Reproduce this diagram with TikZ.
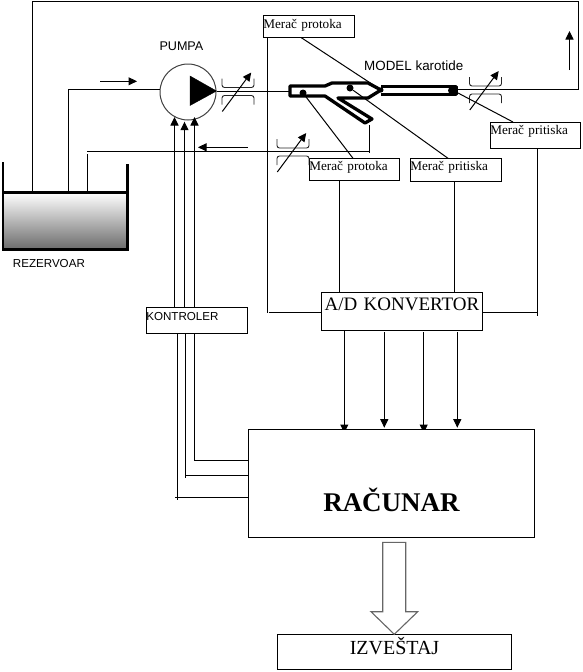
\documentclass[tikz,border=0pt]{standalone}
\usepackage{fontspec}
\setmainfont{Liberation Serif}
\setsansfont{Liberation Sans}
\usetikzlibrary{arrows.meta,backgrounds}
\tikzset{
  nodebox/.style={draw, fill=white, line width=1pt, inner sep=0pt, outer sep=0pt, anchor=north west, align=left},
  meracbox/.style={nodebox, font=\fontsize{13.2}{14}\selectfont},
  labeltext/.style={inner sep=0pt, anchor=base west, font=\sffamily},
  line/.style={line width=1pt},
  arrow/.style={-{Triangle[length=8.5pt,width=8pt]}, line width=1pt},
  tacka/.style={circle, fill=black, inner sep=0pt},
  pipe/.style={line width=3.3pt, line join=round},
  prigusnik/.pic={
    \draw[line width=0.9pt, draw=black!85, rounded corners=2.5pt] (-16,-13) -- (-16,-4) -- (16,-4) -- (16,-13);
    \draw[line width=0.9pt, draw=black!85, rounded corners=2.5pt] (-16,13) -- (-16,4) -- (16,4) -- (16,13);
    \draw[arrow] (-15.7,20) -- (13.2,-19);
  }
}

\begin{document}
\begin{tikzpicture}[x=1pt, y=-1pt]
  \useasboundingbox (0,0) rectangle (582,672);

  \node[draw, line width=2.4pt, inner sep=0pt, outer sep=0pt, minimum width=124.5pt, minimum height=57pt, anchor=north west, top color=white, bottom color=black!58] (R) at (3,192.5) {};
  \node[labeltext, font=\sffamily\fontsize{11.6}{12}\selectfont] (RL) at (12.7,267.3) {REZERVOAR};
  \draw[line width=2.2pt] (R.north west) -- ++(0,-31);
  \draw[line width=2.2pt] (R.north east) -- ++(0,-28.5);

  \node[draw=black!75, circle, line width=1pt, inner sep=0pt, minimum size=56pt] (P) at (188,92) {};
  \node[labeltext, font=\sffamily\fontsize{12.6}{13}\selectfont] (PL) at (159.3,50) {PUMPA};
  \draw[fill=black] (190,76) -- (216.5,91) -- (190,105.5) -- cycle;
  \coordinate (Pout) at (216.5,91);

  \draw[pipe] (290,86) -- (325,86) -- (332,83) -- (368,83) -- (381,90) -- (368,98) -- (338,98) -- (372,119) -- (365,123) -- (325,96) -- (290,96) -- cycle;
  \draw[pipe] (381,86.7) -- (456,86.7) -- (456,94.3) -- (381,94.3);
  \node[labeltext, font=\sffamily\fontsize{13.4}{14}\selectfont] (ML) at (364,70) {MODEL karotide};
  \node[tacka, minimum size=7pt] (T1) at (303,93) {};
  \node[tacka, minimum size=7pt] (T2) at (350,88) {};
  \node[tacka, minimum size=5pt] (T3) at (381,90) {};
  \node[tacka, minimum size=8pt] (T4) at (452,90.5) {};
  \coordinate (Mlevo) at (289,91);
  \coordinate (Mdesno) at (458,89);
  \coordinate (Mgrana) at (369,125);

  \node[meracbox, text width=91pt, text height=13pt, text depth=9.5pt] (MP1) at (263.3,15) {Merač protoka};
  \node[meracbox, text width=90pt, text height=12.4pt, text depth=9.8pt] (MP2) at (309.3,158.3) {Merač protoka};
  \node[meracbox, text width=91pt, text height=12.4pt, text depth=10.6pt] (MT1) at (410.3,158.3) {Merač pritiska};
  \node[meracbox, text width=90pt, text height=12.3pt, text depth=13.7pt] (MT2) at (490.3,122) {Merač pritiska};

  \node[nodebox, align=center, font=\fontsize{19}{20}\selectfont, text width=160.6pt, text height=17.7pt, text depth=20.3pt] (AD) at (321.7,292.3) {A/D KONVERTOR};
  \node[nodebox, font=\sffamily\fontsize{11.6}{12}\selectfont, text width=101pt, text height=13.4pt, text depth=12.6pt] (K) at (146.3,307.3) {KONTROLER};
  \node[nodebox, align=center, font=\bfseries\fontsize{27}{28}\selectfont, text width=286.4pt, text height=81.7pt, text depth=26.3pt] (RC) at (248.3,429.3) {RAČUNAR};
  \node[nodebox, align=center, font=\fontsize{20}{21}\selectfont, text width=234.4pt, text height=19.7pt, text depth=15.3pt] (I) at (277.3,634.3) {IZVEŠTAJ};

  \pic at (238,91.5) {prigusnik};
  \pic at (293,152) {prigusnik};
  \pic at (485.5,90) {prigusnik};

  \coordinate (R1) at (32,1);
  \coordinate (R2) at (68,89);
  \coordinate (R3) at (87,151);
  \coordinate (F) at (578,1);
  \draw[line] (R1 |- R.north) -- (R1) -- (F) -- (F |- Mdesno) -- (Mdesno);
  \draw[line] (R2 |- R.north) -- (R2) -- (P.west |- R2);
  \draw[line] (R3 |- R.north) -- (87,154);
  \draw[line] (R3) -- (Mgrana |- R3);
  \draw[line] (Mgrana) -- ++(0,28);
  \draw[line] (Pout) -- (Mlevo);

  \draw[arrow] (100,81.3) -- (137,81.3);
  \draw[arrow] (247.7,147.3) -- (198,147.3);
  \draw[arrow] (569.5,70) -- (569.5,31);

  \draw[line] (301,37.5) -- (T3);
  \draw[line] (T1) -- (353,158.3);
  \draw[line] (T2) -- (448,158.3);
  \draw[line] (458,93) -- (513,122);

  \draw[line] (267.5,37.5) -- (267.5,313) (268.5,312) -- (AD.west |- 0,312);
  \draw[line] (339,180.5) -- (339,292.3);
  \draw[line] (454.5,181.5) -- (454.5,292.3);
  \draw[line] (537.5,148) -- (537.5,316);
  \draw[line] (AD.east |- 0,312.5) -- (537.5,312.5);

  \coordinate (K1) at (174.5,117);
  \coordinate (K2) at (184.5,121.7);
  \coordinate (K3) at (194.5,117);
  \draw[arrow] (K1 |- K.north) -- (K1);
  \draw[arrow] (K2 |- K.north) -- (K2);
  \draw[arrow] (K3 |- K.north) -- (K3);

  \coordinate (K4) at (177.3,497.5);
  \coordinate (K5) at (185.3,475.5);
  \coordinate (K6) at (194.3,460.5);
  \draw[line] (K4 |- K.south) -- (177.3,500);
  \draw[line] (175,497.5) -- (K4 -| RC.west);
  \draw[line] (K5 |- K.south) -- (185.3,478);
  \draw[line] (K5) -- (K5 -| RC.west);
  \draw[line] (K6 |- K.south) -- (K6) -- (K6 -| RC.west);

  \begin{scope}[on background layer]
    \draw[arrow] (344.3,330) -- (344.3,433);
    \draw[arrow] (423.7,332) -- (423.7,433);
  \end{scope}
  \draw[arrow] (384.3,332) -- (384.3,427.7);
  \draw[arrow] (457.3,332) -- (457.3,427.7);

  \draw[line width=1.1pt, draw=black!60, fill=white] (382.7,542.3) -- (405.7,542.3) -- (405.7,611.7) -- (417.7,611.7) -- (394.3,634.3) -- (371,611.7) -- (382.7,611.7) -- cycle;
\end{tikzpicture}
\end{document}
